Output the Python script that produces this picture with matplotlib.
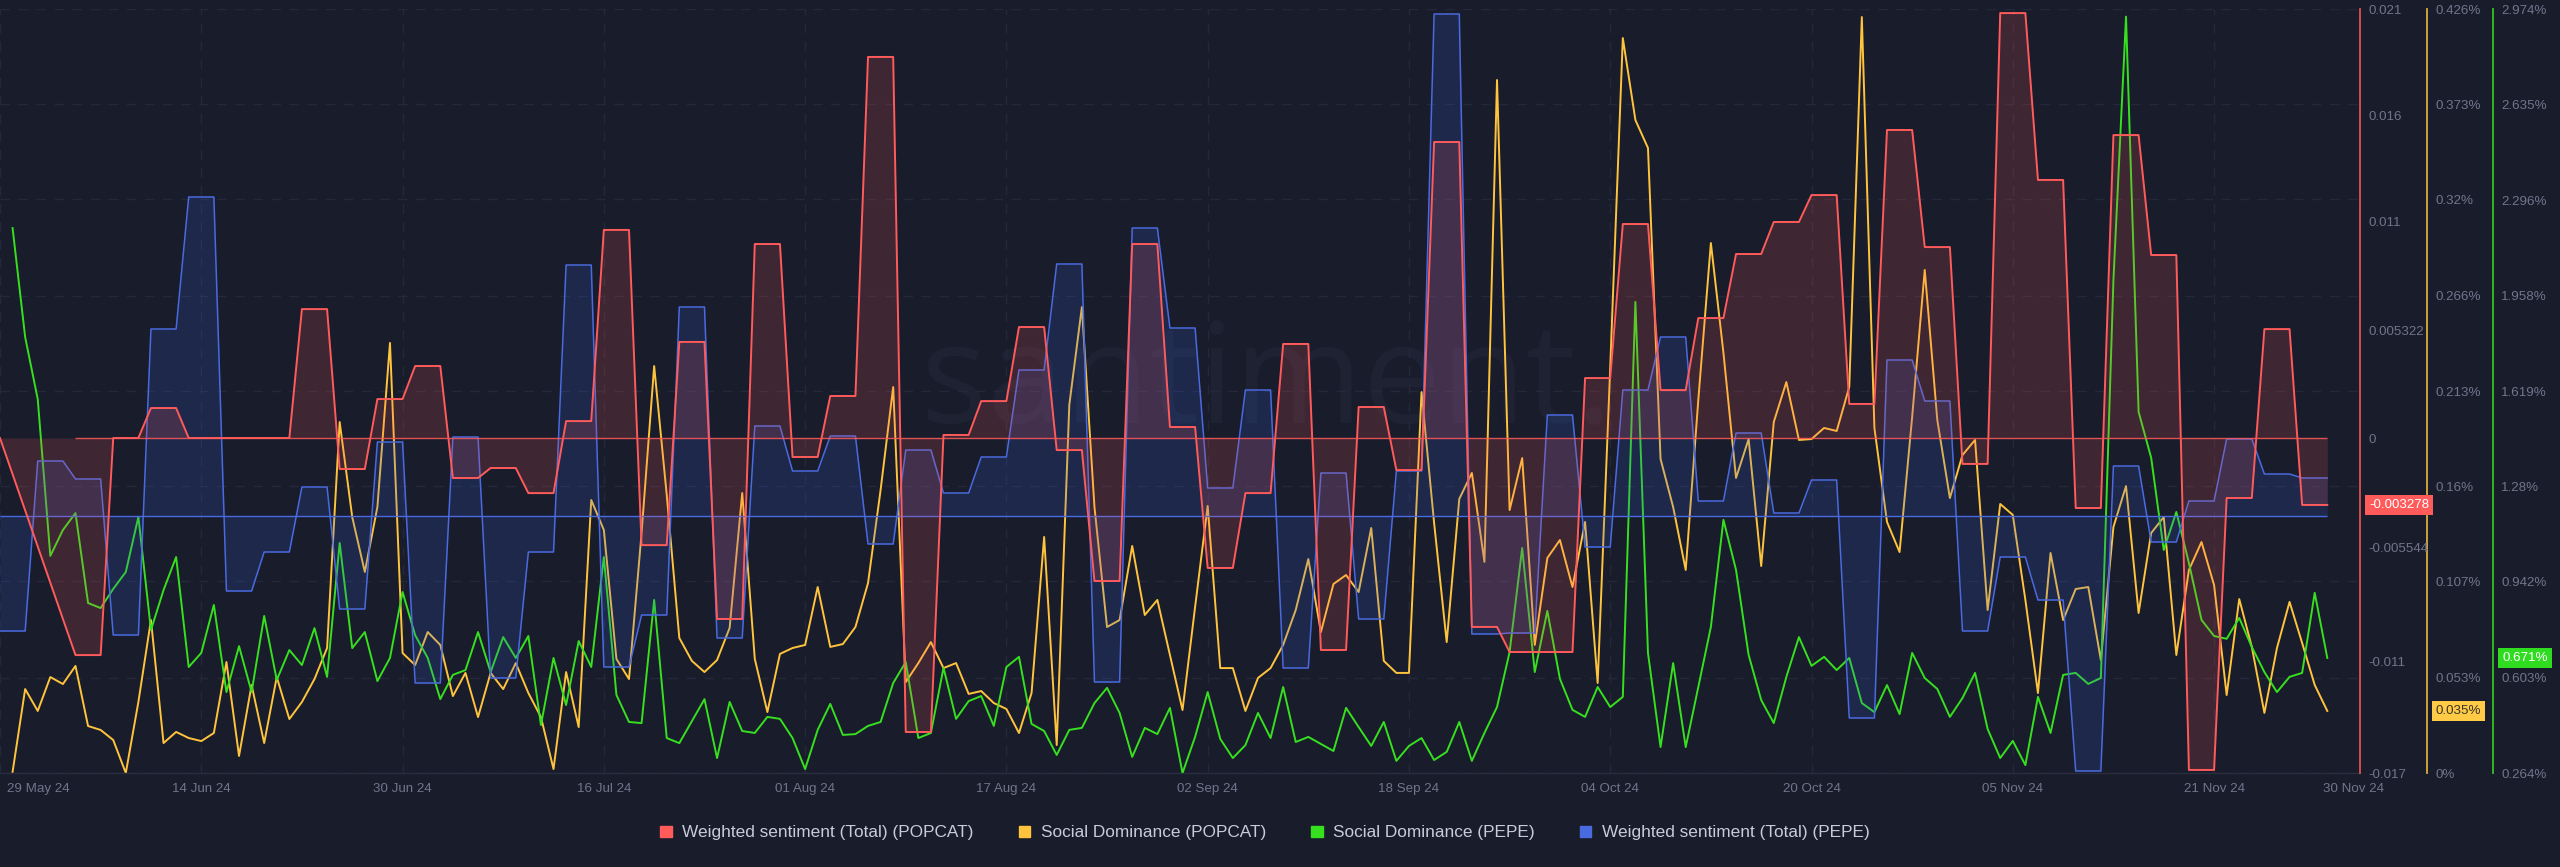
import numpy as np
import pandas as pd
import matplotlib
matplotlib.use('Agg')
import matplotlib.pyplot as plt
from matplotlib.patches import Patch
from matplotlib.transforms import ScaledTranslation

nan = np.nan

dates = pd.date_range('2024-05-29', periods=186)

tick_dates = pd.to_datetime(['2024-05-29', '2024-06-14', '2024-06-30', '2024-07-16', '2024-08-01', '2024-08-17', '2024-09-02',
                             '2024-09-18', '2024-10-04', '2024-10-20', '2024-11-05', '2024-11-21', '2024-11-30'])
tick_labels = ['29 May 24', '14 Jun 24', '30 Jun 24', '16 Jul 24', '01 Aug 24', '17 Aug 24', '02 Sep 24',
               '18 Sep 24', '04 Oct 24', '20 Oct 24', '05 Nov 24', '21 Nov 24', '30 Nov 24']

# weighted sentiment, popcat
sent_popcat = [0, nan, nan, nan, nan, nan,
    -.01064, -.01064, -.01064, 0, 0, 0, .00147, .00147, .00147, 0, 0, 0,
    0, 0, 0, 0, 0, 0, .00632, .00632, .00632, -.00152, -.00152, -.00152,
    .00191, .00191, .00191, .00353, .00353, .00353, -.00196, -.00196, -.00196, -.00147, -.00147, -.00147,
    -.0027, -.0027, -.0027, .00083, .00083, .00083, .0102, .0102, .0102, -.00525, -.00525, -.00525,
    .00471, .00471, .00471, -.00887, -.00887, -.00887, .00951, .00951, .00951, -.00093, -.00093, -.00093,
    .00206, .00206, .00206, .01868, .01868, .01868, -.01441, -.01441, -.01441, .00015, .00015, .00015,
    .00181, .00181, .00181, .00544, .00544, .00544, -.00059, -.00059, -.00059, -.00701, -.00701, -.00701,
    .00951, .00951, .00951, .00054, .00054, .00054, -.00637, -.00637, -.00637, -.0027, -.0027, -.0027,
    .00461, .00461, .00461, -.01039, -.01039, -.01039, .00152, .00152, .00152, -.00157, -.00157, -.00157,
    .01451, .01451, .01451, -.00926, -.00926, -.00926, -.01049, -.01049, -.01049, -.01049, -.01049, -.01049,
    .00294, .00294, .00294, .01049, .01049, .01049, .00235, .00235, .00235, .00588, .00588, .00588,
    .00902, .00902, .00902, .01059, .01059, .01059, .01191, .01191, .01191, .00167, .00167, .00167,
    .0151, .0151, .0151, .00936, .00936, .00936, -.00127, -.00127, -.00127, .02083, .02083, .02083,
    .01265, .01265, .01265, -.00343, -.00343, -.00343, .01485, .01485, .01485, .00897, .00897, .00897,
    -.01627, -.01627, -.01627, -.00294, -.00294, -.00294, .00534, .00534, .00534, -.00328, -.00328, -.00328]

# weighted sentiment, pepe
sent_pepe = [-.00575, -.00575, -.00575, .00275, .00275, .00275, .00185, .00185, .00185, -.00595, -.00595, -.00595,
    .00935, .00935, .00935, .01595, .01595, .01595, -.00375, -.00375, -.00375, -.0018, -.0018, -.0018,
    .00145, .00145, .00145, -.00465, -.00465, -.00465, .0037, .0037, .0037, -.00835, -.00835, -.00835,
    .00395, .00395, .00395, -.0081, -.0081, -.0081, -.0018, -.0018, -.0018, .01255, .01255, .01255,
    -.00755, -.00755, -.00755, -.00495, -.00495, -.00495, .01045, .01045, .01045, -.0061, -.0061, -.0061,
    .0045, .0045, .0045, .00225, .00225, .00225, .004, .004, .004, -.0014, -.0014, -.0014,
    .0033, .0033, .0033, .00115, .00115, .00115, .00295, .00295, .00295, .0073, .0073, .0073,
    .0126, .0126, .0126, -.0083, -.0083, -.0083, .0144, .0144, .0144, .0094, .0094, .0094,
    .0014, .0014, .0014, .0063, .0063, .0063, -.0076, -.0076, -.0076, .00215, .00215, .00215,
    -.00515, -.00515, -.00515, .00225, .00225, .00225, .0251, .0251, .0251, -.0059, -.0059, -.0059,
    -.00585, -.00585, -.00585, .00505, .00505, .00505, -.00155, -.00155, -.00155, .0063, .0063, .0063,
    .00895, .00895, .00895, .00075, .00075, .00075, .00415, .00415, .00415, .00015, .00015, .00015,
    .0018, .0018, .0018, -.0101, -.0101, -.0101, .0078, .0078, .0078, .00575, .00575, .00575,
    -.00575, -.00575, -.00575, -.00205, -.00205, -.00205, -.0042, -.0042, -.0042, -.01275, -.01275, -.01275,
    .0025, .0025, .0025, -.0013, -.0013, -.0013, .00075, .00075, .00075, .00385, .00385, .00385,
    .0021, .0021, .0021, .0019, .0019, .0019]

# social dominance %, popcat
dom_popcat = [nan, .0006, .0468, .0346, .0535, .0496, .0597, .0262, .0240, .0184,
    0, .0396, .0853, .0167, .0229, .0195, .0178, .0223, .0619, .0095,
    .0491, .0167, .0535, .0301, .0396, .0524, .0697, .1957, .1427, .1121,
    .1483, .2398, .0669, .0602, .0786, .0714, .0429, .0558, .0312, .0558,
    .0468, .0613, .0446, .0312, .0022, .0563, .0256, .1522, .1355, .0636,
    .0524, .1338, .2269, .1550, .0753, .0625, .0563, .0630, .0809, .1561,
    .0636, .0340, .0664, .0697, .0714, .1037, .0703, .0719, .0814, .1059,
    .1578, .2152, .0507, .0613, .0730, .0585, .0613, .0441, .0457, .0390,
    .0357, .0223, .0446, .1316, .0156, .2052, .2598, .1483, .0814, .0853,
    .1266, .0881, .0965, .0658, .0351, .0926, .1489, .0585, .0585, .0346,
    .0530, .0585, .0714, .0909, .1193, .0786, .1054, .1104, .1009, .1366,
    .0625, .0558, .0558, .2124, .1394, .0730, .1528, .1673, .1177, .3864,
    .1466, .1756, .0714, .1199, .1299, .1037, .1400, .0502, .2264, .4098,
    .3641, .3485, .1751, .1483, .1132, .2080, .2955, .2342, .1645, .1862,
    .1154, .1957, .2180, .1857, .1862, .1924, .1907, .2152, .4215, .1924,
    .1400, .1232, .1985, .2805, .1968, .1533, .1773, .1857, .0909, .1500,
    .1439, .0965, .0446, .1227, .0853, .1026, .1037, .0630, .1372, .1600,
    .0892, .1338, .1427, .0658, .1132, .1288, .1048, .0435, .0970, .0703,
    .0335, .0697, .0954, .0725, .0491, .0346]

# social dominance %, pepe
dom_pepe = [nan, 2.197, 1.810, 1.590, 1.034, 1.126, 1.186, .867, .849, .917,
    .977, 1.172, .771, .913, 1.030, .640, .690, .860, .551, .714,
    .551, .821, .594, .700, .647, .778, .605, 1.080, .707, .764,
    .590, .672, .906, .753, .672, .526, .612, .629, .764, .622,
    .746, .672, .750, .434, .672, .505, .732, .640, 1.030, .541,
    .445, .441, .878, .388, .370, .448, .526, .317, .516, .413,
    .406, .463, .456, .388, .278, .417, .509, .399, .402, .431,
    .445, .583, .658, .388, .406, .637, .456, .519, .537, .431,
    .640, .676, .438, .413, .328, .417, .424, .512, .566, .477,
    .321, .424, .402, .495, .264, .392, .551, .385, .317, .363,
    .477, .388, .569, .374, .392, .367, .342, .495, .427, .360,
    .445, .307, .360, .388, .310, .339, .445, .307, .406, .498,
    .693, 1.062, .622, .839, .598, .488, .463, .569, .498, .534,
    1.935, .690, .356, .654, .356, .569, .782, 1.162, .984, .683,
    .523, .441, .605, .746, .644, .676, .629, .672, .512, .480,
    .576, .473, .690, .601, .562, .463, .530, .619, .420, .317,
    .378, .292, .534, .406, .612, .619, .580, .601, 2.013, 2.947,
    1.545, 1.382, 1.055, 1.190, 1.009, .807, .750, .740, .814, .711,
    .622, .551, .605, .619, .903, .672]

sent_popcat_ticks = [.02103, .01583, .01059, .00529, 0, -.00539, -.01093, -.01642]
sent_popcat_labels = ['0.021', '0.016', '0.011', '0.005322', '0', '-0.005544', '-0.011', '-0.017']
dom_popcat_ticks = [0, .053, .107, .16, .213, .266, .32, .373, .426]
dom_popcat_labels = ['0%', '0.053%', '0.107%', '0.16%', '0.213%', '0.266%', '0.32%', '0.373%', '0.426%']
dom_pepe_ticks = [.264, .603, .942, 1.28, 1.619, 1.958, 2.296, 2.635, 2.974]
dom_pepe_labels = ['0.264%', '0.603%', '0.942%', '1.28%', '1.619%', '1.958%', '2.296%', '2.635%', '2.974%']

RED = '#ff5b5b'
YELLOW = '#ffc43d'
GREEN = '#37e01f'
BLUE = '#4a6ae0'
BG = '#191c2b'
TEXT = '#71758a'

plt.rcParams['font.family'] = ['Liberation Sans', 'DejaVu Sans']
plt.rcParams['font.size'] = 9.6

W, H = 2560, 867
fig = plt.figure(figsize=(W / 100, H / 100), dpi=100, facecolor=BG)

# yellow axis is the host, it carries the grid and the dates
ax = fig.add_axes([0, (H - 773) / H, 2360 / W, 764 / H], facecolor=BG, zorder=1)
ax_green = ax.twinx()
ax_blue = ax.twinx()
ax_red = ax.twinx()
ax_green.set_zorder(2)
ax_blue.set_zorder(3)
ax_red.set_zorder(4)

ax.text(.5365, .458, 'santiment.', transform=ax.transAxes, ha='center', va='baseline',
        fontsize=100, color='#1f2233', family='Open Sans', zorder=0)

ax.plot(dates, dom_popcat, color=YELLOW, lw=1.4)
ax_green.plot(dates, dom_pepe, color=GREEN, lw=1.4)

blue = np.array(sent_pepe)
ax_blue.fill_between(dates, blue, 0, color='#3060e0', alpha=.18, lw=0)
ax_blue.plot(dates, blue, color=BLUE, lw=1.1)
ax_blue.hlines(0, dates[0], dates[-1], color=BLUE, lw=1)

red = np.array(sent_popcat)
ok = ~np.isnan(red)
ax_red.fill_between(dates[ok], red[ok], 0, color=RED, alpha=.17, lw=0)
ax_red.plot(dates[ok], red[ok], color=RED, lw=1.4)
ax_red.hlines(0, dates[6], dates[-1], color=RED, lw=1, alpha=.85)

ax.set_xlim(dates[0], dates[0] + pd.Timedelta(days=187.6))
ax.set_ylim(0, .426)
ax_green.set_ylim(.264, 2.974)
ax_blue.set_ylim(-.01285, .02535)
ax_red.set_ylim(-.01642, .02103)

ax.yaxis.tick_right()
ax.set_yticks(dom_popcat_ticks)
ax.set_yticklabels(dom_popcat_labels)
ax_green.set_yticks(dom_pepe_ticks)
ax_green.set_yticklabels(dom_pepe_labels)
ax_red.set_yticks(sent_popcat_ticks)
ax_red.set_yticklabels(sent_popcat_labels)
ax_blue.set_yticks([])

ax.set_xticks(tick_dates)
ax.set_xticklabels(tick_labels)
ax.tick_params(axis='x', length=0, pad=7, colors=TEXT)
for a in [ax, ax_green, ax_red]:
    a.tick_params(axis='y', length=0, pad=5.8, colors=TEXT)

ax.grid(True, color='#25283a', lw=1, ls=(0, (7, 6)))
ax.set_axisbelow(True)
ax.get_xgridlines()[-1].set_visible(False)

# first and last date labels sit to the right of their tick
xlabels = ax.get_xticklabels()
for lab, dx in [(xlabels[0], 7), (xlabels[-1], -4)]:
    lab.set_ha('left')
    lab.set_transform(lab.get_transform() + ScaledTranslation(dx / 100, 0, fig.dpi_scale_trans))

for a in [ax, ax_green, ax_blue, ax_red]:
    for s in a.spines.values():
        s.set_visible(False)
ax.spines['bottom'].set_visible(True)
ax.spines['bottom'].set_color('#2a2d3f')
ax.spines['bottom'].set_linewidth(1)

for a, col, px in [(ax_red, RED, 0), (ax, YELLOW, 67), (ax_green, GREEN, 133)]:
    a.spines['right'].set_visible(True)
    a.spines['right'].set_color(col)
    a.spines['right'].set_alpha(.85)
    a.spines['right'].set_linewidth(1.3)
    a.spines['right'].set_position(('outward', px * .72))

# last value badges
badge = dict(ha='left', va='center', xycoords=('axes fraction', 'data'), textcoords='offset points', annotation_clip=False)
ax_red.annotate('-0.003278', xy=(1, sent_popcat[-1]), xytext=(6.6, 0), color='white', zorder=10,
                bbox=dict(boxstyle='square,pad=0.3', fc='#ff5b5b', ec='none'), **badge)
ax.annotate('0.035%', xy=(1, dom_popcat[-1]), xytext=(54.5, 0), color='#3a3526', zorder=10,
            bbox=dict(boxstyle='square,pad=0.3', fc='#ffcb47', ec='none'), **badge)
ax_green.annotate('0.671%', xy=(1, dom_pepe[-1]), xytext=(102.5, 0), color='white', zorder=10,
                  bbox=dict(boxstyle='square,pad=0.3', fc='#2fdc1f', ec='none'), **badge)

handles = [Patch(color=RED), Patch(color=YELLOW), Patch(color=GREEN), Patch(color=BLUE)]
names = ['Weighted sentiment (Total) (POPCAT)', 'Social Dominance (POPCAT)', 'Social Dominance (PEPE)', 'Weighted sentiment (Total) (PEPE)']
fig.legend(handles, names, ncol=4, loc='center', bbox_to_anchor=(1265 / W, (H - 833) / H), frameon=False,
           fontsize=12.4, labelcolor='#c9cbd8', handlelength=.65, handleheight=.65, handletextpad=.6, columnspacing=2.65)

plt.savefig('out.png', dpi=100, facecolor=BG)
